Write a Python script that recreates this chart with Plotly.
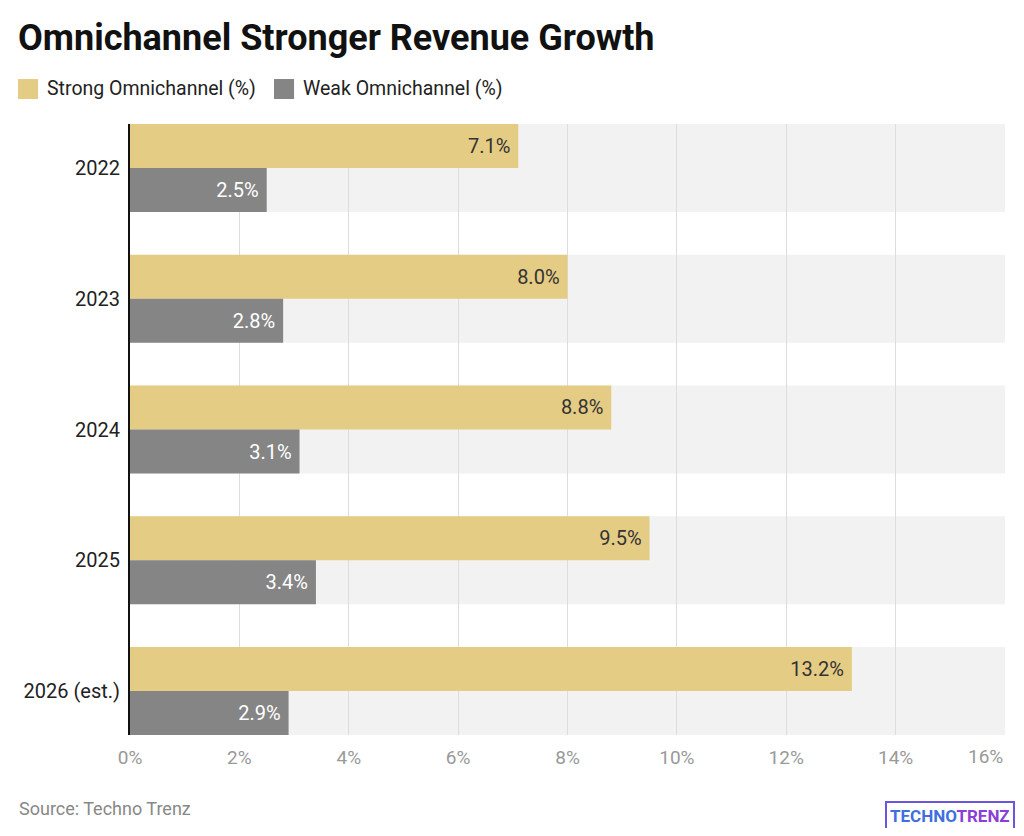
import plotly.graph_objects as go

years = ["2022", "2023", "2024", "2025", "2026 (est.)"]
strong = [7.1, 8.0, 8.8, 9.5, 13.2]
weak = [2.5, 2.8, 3.1, 3.4, 2.9]
x_ticks = [0, 2, 4, 6, 8, 10, 12, 14, 16]

STRONG_C = "#e5cc85"
WEAK_C = "#858585"
half = 0.337  # half band height in category units

fig = go.Figure()
fig.add_trace(go.Bar(
    y=years, x=strong, orientation="h", name="Strong Omnichannel (%)",
    marker=dict(color=STRONG_C, line=dict(width=0)),
    text=[f"{v:.1f}%\u00a0" for v in strong], textposition="inside",
    insidetextanchor="end", textfont=dict(color="#333333", size=20),
    showlegend=False,
))
fig.add_trace(go.Bar(
    y=years, x=weak, orientation="h", name="Weak Omnichannel (%)",
    marker=dict(color=WEAK_C, line=dict(width=0)),
    text=[f"{v:.1f}%\u00a0" for v in weak], textposition="inside",
    insidetextanchor="end", textfont=dict(color="#ffffff", size=20),
    showlegend=False,
))

# grey band behind each category
for i in range(len(years)):
    fig.add_shape(type="rect", xref="paper", yref="y", x0=0, x1=1,
                  y0=i - half, y1=i + half, fillcolor="#f2f2f2",
                  line=dict(width=0), layer="below")

# legend drawn by hand (bigger squares like the original)
legend_items = [("Strong Omnichannel (%)", STRONG_C, -0.128), ("Weak Omnichannel (%)", WEAK_C, 0.1646)]
for label, col, x0 in legend_items:
    fig.add_shape(type="rect", xref="paper", yref="paper", x0=x0, x1=x0 + 0.0229,
                  y0=1.0409, y1=1.0736, fillcolor=col, line=dict(width=0))
    fig.add_annotation(text=label, xref="paper", yref="paper", x=x0 + 0.031,
                       xanchor="left", y=1.0573, yanchor="middle", showarrow=False,
                       font=dict(size=19.5, color="#222222"))

fig.update_layout(
    width=1008, height=820,
    margin=dict(l=122, r=11, t=116, b=93),
    paper_bgcolor="white", plot_bgcolor="white",
    font=dict(family="Roboto", size=19, color="#222222"),
    barmode="group", bargap=1 - 2 * half, bargroupgap=0,
    title=dict(text="<b>Omnichannel Stronger Revenue Growth</b>",
               x=0.0099, xanchor="left", y=0.9646, yanchor="middle",
               font=dict(size=36, color="#111111", family="Roboto")),
    uniformtext=dict(mode="show", minsize=20),
    showlegend=False,
)
# last tick label is right-aligned to the plot edge, like the original
tick_text = [f"{v}%" for v in x_ticks]
fig.update_xaxes(range=[0, 16], tickvals=x_ticks, ticktext=tick_text[:-1] + [""],
                 showgrid=True, gridcolor="#dddddd", gridwidth=1, zeroline=False,
                 tickfont=dict(color="#999999", size=19), ticks="", fixedrange=True,
                 ticklabelstandoff=9)
fig.add_annotation(text=tick_text[-1], xref="x", yref="paper", x=x_ticks[-1],
                   xanchor="right", y=-0.036, yanchor="middle", showarrow=False,
                   font=dict(size=19, color="#999999"))
fig.update_yaxes(range=[len(years) - 1 + half, -half], showgrid=False,
                 showline=True, linecolor="#111111", linewidth=2,
                 tickfont=dict(color="#222222", size=20), ticks="",
                 ticklabelstandoff=4)

fig.add_annotation(text="Source: Techno Trenz", xref="paper", yref="paper",
                   x=-0.1291, xanchor="left", y=-0.1195, yanchor="middle",
                   showarrow=False, font=dict(size=18, color="#888888"))
fig.add_annotation(text="<b><span style='color:#3f6fe0'>TECHNO</span>"
                        "<span style='color:#8a3fd6'>TRENZ</span></b>",
                   xref="paper", yref="paper", x=1.011, xanchor="right",
                   y=-0.1326, yanchor="middle", showarrow=False,
                   font=dict(size=17, family="Roboto"),
                   bordercolor="#6a55dc", borderwidth=2, borderpad=3)

fig.write_html("out.html")
